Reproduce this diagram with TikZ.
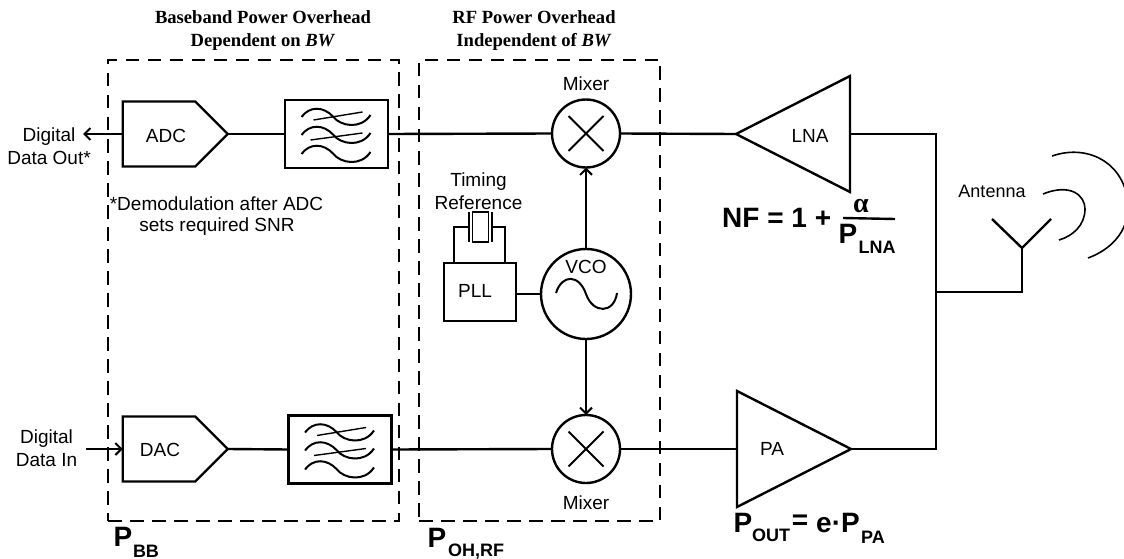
\documentclass[tikz,border=0pt]{standalone}
\usepackage{fontspec}
\setmainfont{Liberation Sans}
\newfontfamily\serifbf{Liberation Serif}[BoldFont={Liberation Serif Bold},BoldItalicFont={Liberation Serif Bold Italic}]
\usetikzlibrary{shapes.geometric,shapes.symbols,arrows.meta,calc}
\tikzset{
    wire/.style = {line width=2.4pt},
    sig/.style = {
        wire, -{Straight Barb[length=6pt,width=12pt,line width=2pt]}
    },
    dashbox/.style = {
        draw, rectangle, line width=2.3pt, dash pattern=on 13.5pt off 8.5pt,
        outer sep=0, inner sep=0
    },
    conv/.style = {
        draw, wire, signal, signal to=east, signal pointer angle=90,
        outer sep=0, inner sep=0,
        minimum width=105pt, minimum height=65pt
    },
    filt/.style = {
        draw, wire, rectangle, outer sep=0, inner sep=0,
        minimum width=103pt, minimum height=68pt
    },
    mix/.style = {
        draw, wire, circle, outer sep=0, inner sep=0, minimum size=68pt
    },
    amp/.style = {
        draw, wire, isosceles triangle, isosceles triangle stretches,
        outer sep=0, inner sep=0, anchor=apex,
        minimum width=116pt, minimum height=114pt
    },
    lab/.style = {
        align=center, inner sep=0, font=\fontsize{19}{23}\selectfont
    },
    title/.style = {
        align=center, inner sep=0,
        font=\serifbf\bfseries\fontsize{18.6}{22.5}\selectfont
    },
    pow/.style = {
        inner sep=0, font=\bfseries\fontsize{28}{30}\selectfont
    },
    powsub/.style = {
        inner sep=0, font=\bfseries\fontsize{18}{20}\selectfont
    }
}
\newcommand{\waves}[1]{
  \begin{scope}[shift={(#1)},line width=2pt]
    \foreach \dy in {-17,1,20}
      \draw (-35,\dy) .. controls (-27,\dy-11) and (-13,\dy-11) .. (-3,\dy)
        .. controls (4,\dy+9) and (24,\dy+13) .. (34,\dy-2);
    \draw[line width=1.4pt] (-23,-14) -- (26,-22);
    \draw[line width=1.4pt] (-26,6) -- (26,-1);
  \end{scope}
}
\newcommand{\crossout}[1]{
  \draw[line width=2pt] ($(#1)+(-17.5,-17.5)$) -- ($(#1)+(17.5,17.5)$)
    ($(#1)+(17.5,-17.5)$) -- ($(#1)+(-17.5,17.5)$);
}

\begin{document}
\begin{tikzpicture}[x=1pt,y=-1pt]
\useasboundingbox (0,0) rectangle (1124,559);

% 1. dashed boxes and titles
\node[dashbox,minimum width=291pt,minimum height=461pt] (bbBox) at (253.5,290.5) {};
\node[dashbox,minimum width=241pt,minimum height=461pt] (rfBox) at (539.5,290.5) {};
\node[title] (bbTitle) at (263,30.5) {Baseband Power Overhead\\ Dependent on \textit{BW}};
\node[title] (rfTitle) at (534,30.5) {RF Power Overhead\\ Independent of \textit{BW}};

% 2. blocks
\node[conv] (ADC) at (159,134) {};
\node[conv] (DAC) at (159,449) {};
\node[lab] at (166,136) (ADCtxt) {ADC};
\node[lab] at (160,450) (DACtxt) {DAC};
\node[filt] (filtA) at (336.5,134) {};
\node[filt] (filtB) at (340,449.5) {};
\node[mix] (mixA) at (586,133.5) {};
\node[mix] (mixB) at (586,449) {};
\node[draw,wire,circle,outer sep=0,inner sep=0,minimum size=90pt] (VCO) at (586,294) {};
\node[draw,wire,rectangle,outer sep=0,inner sep=0,minimum width=72pt,minimum height=58pt] (PLL) at (480,292) {};
\node[lab] (PLLtxt) at (475,291) {PLL};
\node[lab] (VCOtxt) at (586,267) {VCO};
\node[amp,shape border rotate=180] (LNA) at (736,134) {};
\node[amp,shape border rotate=0] (PA) at (851,449) {};
\node[lab] (LNAtxt) at (810,136) {LNA};
\node[lab] (PAtxt) at (772,449) {PA};

\waves{filtA}
\waves{filtB}
\crossout{mixA}
\crossout{mixB}
\draw[line width=2pt] ($(VCO)+(-30,-1)$) .. controls ($(VCO)+(-24,-20)$) and ($(VCO)+(-7,-20)$) .. ($(VCO)+(0,0)$)
  .. controls ($(VCO)+(7,20)$) and ($(VCO)+(28,20)$) .. ($(VCO)+(31,-1)$);

% 3. crystal
\coordinate (leadL) at (454,263);
\coordinate (leadR) at (505,263);
\coordinate (platL) at (469,227);
\coordinate (platR) at (492,227);
\node[draw,line width=1.4pt,rectangle,outer sep=0,inner sep=0,minimum width=16pt,minimum height=30pt] (xtal) at (480.5,227) {};
\draw[line width=1.6pt] ($(platL)+(0,-15)$) -- ($(platL)+(0,15)$);
\draw[line width=1.6pt] ($(platR)+(0,-15)$) -- ($(platR)+(0,15)$);
\draw[wire] (leadL) |- (platL);
\draw[wire] (leadR) |- (platR);

% 4. connections
\coordinate (dOut) at (83,134);
\coordinate (dIn) at (86,449);
\coordinate (antBase) at (1022,248);
\coordinate (antL) at (992,219);
\coordinate (antR) at (1051,219);
\coordinate (busTop) at (936,134);
\coordinate (busBot) at (936,449);
\draw[sig] (ADC.west) -- (dOut);
\draw[sig] (dIn) -- (DAC.west);
\draw[wire] (ADC.east) -- (filtA.west);
\draw[wire] (DAC.east) -- (filtB.west);
\draw[wire] (filtA.east) -- (mixA.west);
\draw[wire] (filtB.east) -- (mixB.west);
\draw[wire] (mixA.east) -- (LNA.apex);
\draw[wire] (mixB.east) -- (PA.lower side);
\draw[sig] (VCO.north) -- (mixA.south);
\draw[sig] (VCO.south) -- (mixB.north);
\draw[wire] (PLL.east |- VCO.west) -- (VCO.west);
\draw[wire] (LNA.lower side) -- (busTop) -- (busBot) -- (PA.apex);
\draw[wire] (936,292) coordinate (busMid) -- (antBase |- busMid) -- (antBase);
\draw[wire] (antL) -- (antBase) -- (antR);

% 5. antenna waves
\draw[line width=1.6pt] (1043,194) .. controls (1070,183) and (1085,195) .. (1085,209) .. controls (1085,225) and (1073,236) .. (1059,240);
\draw[line width=1.6pt] (1052,156) .. controls (1090,143) and (1126,165) .. (1128,205) .. controls (1129,232) and (1110,250) .. (1088,258);

% 6. labels
\node[lab] (outTxt) at (49,146.5) {Digital\\ Data Out*};
\node[lab] (inTxt) at (46.5,448.5) {Digital\\ Data In};
\node[lab] (noteA) at (216.5,204) {*Demodulation after ADC};
\node[lab] (noteB) at (217,227) {sets required SNR};
\node[lab] (mixTxtA) at (586,84) {Mixer};
\node[lab] (mixTxtB) at (586,503) {Mixer};
\node[lab] (refTxt) at (478.5,191) {Timing\\ Reference};
\node[lab,font=\fontsize{18}{23}\selectfont] (antTxt) at (992,191) {Antenna};

% 7. power equations
\node[pow,anchor=west] (NF) at (722,218) {NF = 1 +};
\node[inner sep=0,font=\serifbf\bfseries\fontsize{28}{30}\selectfont] (alpha) at (861,206) {α};
\node[pow] (Pn) at (848,234) {P};
\node[powsub] (Pnsub) at (877,247) {LNA};
\draw[wire] (843,218) coordinate (fracL) -- (895,219) coordinate (fracR);
\node[pow] (Pbb) at (123,537) {P};
\node[powsub] (Pbbsub) at (146,551) {BB};
\node[pow] (Prf) at (437,538) {P};
\node[powsub] (Prfsub) at (476,552) {OH,RF};
\node[pow] (Pout) at (743,523) {P};
\node[powsub] (Poutsub) at (771,535) {OUT};
\node[pow] (Peq) at (800,522) {=};
\node[pow] (Pepa) at (838,523) {e·P};
\node[powsub] (Ppasub) at (873,537) {PA};

\end{tikzpicture}
\end{document}
